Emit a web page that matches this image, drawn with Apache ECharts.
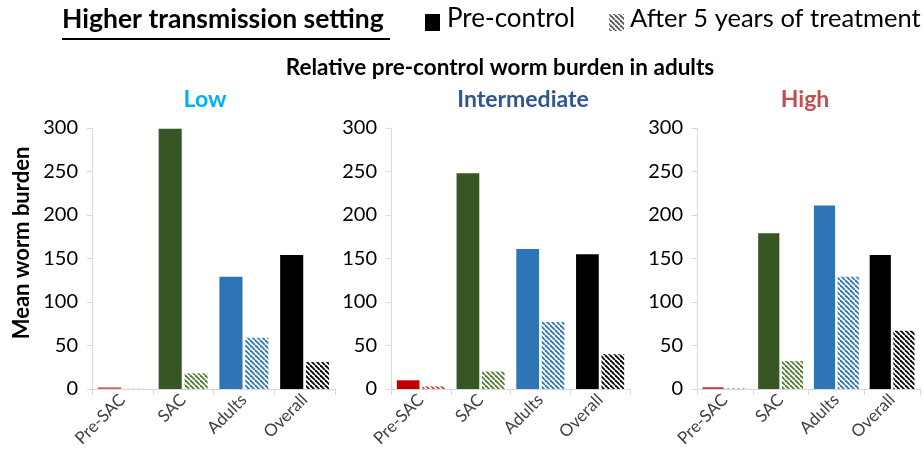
<!DOCTYPE html>
<html><head><meta charset="utf-8">
<script src="https://cdn.jsdelivr.net/npm/echarts@6/dist/echarts.min.js"></script>
<style>html,body{margin:0;padding:0;background:#fff}#c{width:924px;height:456px}</style>
</head><body><div id="c"></div>
<script>
const categories = ['Pre-SAC', 'SAC', 'Adults', 'Overall'];
const yTicks = [0, 50, 100, 150, 200, 250, 300];
const panelTitles = ['Low', 'Intermediate', 'High'];
const lowPre = [2, 299, 129, 154];
const lowAfter = [0.5, 18, 59, 31];
const intPre = [10, 248, 161, 155];
const intAfter = [3, 20, 77, 40];
const highPre = [2, 179, 211, 154];
const highAfter = [1, 32, 129, 67];

const FONT = 'Lato';
function hatch(color) {
  const c = document.createElement('canvas');
  c.width = 5; c.height = 5;
  const g = c.getContext('2d');
  g.fillStyle = '#fff'; g.fillRect(0, 0, 5, 5);
  g.strokeStyle = color; g.lineWidth = 1.8;
  for (let k = -5; k <= 10; k += 5) {
    g.beginPath(); g.moveTo(k, 0); g.lineTo(k + 5, 5); g.stroke();
  }
  return { image: c, repeat: 'repeat' };
}
const preColors = [
  ['#d9605f', '#375623', '#2e75b6', '#000000'],
  ['#c00000', '#375623', '#2e75b6', '#000000'],
  ['#d03434', '#375623', '#2e75b6', '#000000']
];
const afterColors = [
  ['#f2b8b8', '#4f7a30', '#2e75b6', '#000000'],
  ['#e03030', '#4f7a30', '#2e75b6', '#000000'],
  ['#7aa6d6', '#4f7a30', '#2e75b6', '#000000']
];
const preData = [lowPre, intPre, highPre];
const afterData = [lowAfter, intAfter, highAfter];
const grids = [
  { left: 92, width: 243, top: 128, height: 261 },
  { left: 391, width: 239, top: 128, height: 261 },
  { left: 697, width: 223, top: 128, height: 261 }
];
const xAxes = [], yAxes = [], series = [];
grids.forEach((g, i) => {
  xAxes.push({
    type: 'category', gridIndex: i, data: categories,
    axisLine: { lineStyle: { color: '#d9d9d9', width: 1 } },
    axisTick: { show: true, length: 6, lineStyle: { color: '#d9d9d9' } },
    axisLabel: { rotate: 45, fontFamily: FONT, fontSize: 17, color: '#404040', margin: 8 }
  });
  yAxes.push({
    type: 'value', gridIndex: i, min: 0, max: 300, interval: 50,
    axisLine: { show: true, lineStyle: { color: '#d9d9d9' } },
    axisTick: { show: true, length: 5, lineStyle: { color: '#d9d9d9' } },
    splitLine: { show: false },
    axisLabel: { fontFamily: FONT, fontSize: 20, color: '#000', margin: 14 }
  });
  series.push({
    type: 'bar', xAxisIndex: i, yAxisIndex: i, barWidth: '38%', barGap: '12%',
    data: preData[i].map((v, j) => ({ value: v, itemStyle: { color: preColors[i][j] } }))
  });
  series.push({
    type: 'bar', xAxisIndex: i, yAxisIndex: i, barWidth: '38%', barGap: '12%',
    data: afterData[i].map((v, j) => ({ value: v, itemStyle: { color: hatch(afterColors[i][j]) } }))
  });
});

const chart = echarts.init(document.getElementById('c'), null, { renderer: 'canvas' });
const titleColors = ['#00b0f0', '#2f5597', '#c0504d'];
const titleX = [205, 523, 805];
const graphic = [
  { type: 'text', left: 62, top: 6, style: { text: 'Higher transmission setting', font: 'bold 26.5px ' + FONT, fill: '#000' } },
  { type: 'rect', shape: { x: 62, y: 38, width: 328, height: 2 }, style: { fill: '#000' } },
  { type: 'rect', shape: { x: 425, y: 14, width: 15, height: 17 }, style: { fill: '#000' } },
  { type: 'text', left: 447, top: 6, style: { text: 'Pre-control', font: '26px ' + FONT, fill: '#000' } },
  { type: 'rect', shape: { x: 609, y: 14, width: 15, height: 17 }, style: { fill: hatch('#555') } },
  { type: 'text', left: 630, top: 6, style: { text: 'After 5 years of treatment', font: '25.5px ' + FONT, fill: '#000' } },
  { type: 'text', x: 500, y: 68, style: { text: 'Relative pre-control worm burden in adults', font: 'bold 22.5px ' + FONT, fill: '#000', align: 'center', verticalAlign: 'middle' } },
  { type: 'text', x: 22, y: 243, rotation: Math.PI / 2, style: { text: 'Mean worm burden', font: 'bold 22px ' + FONT, fill: '#000', align: 'center', verticalAlign: 'middle' } }
];
panelTitles.forEach((t, i) => {
  graphic.push({ type: 'text', x: titleX[i], y: 100, style: { text: t, font: 'bold 23px ' + FONT, fill: titleColors[i], align: 'center', verticalAlign: 'middle' } });
});
chart.setOption({
  animation: false,
  grid: grids,
  xAxis: xAxes,
  yAxis: yAxes,
  series: series,
  graphic: graphic
});
</script></body></html>
